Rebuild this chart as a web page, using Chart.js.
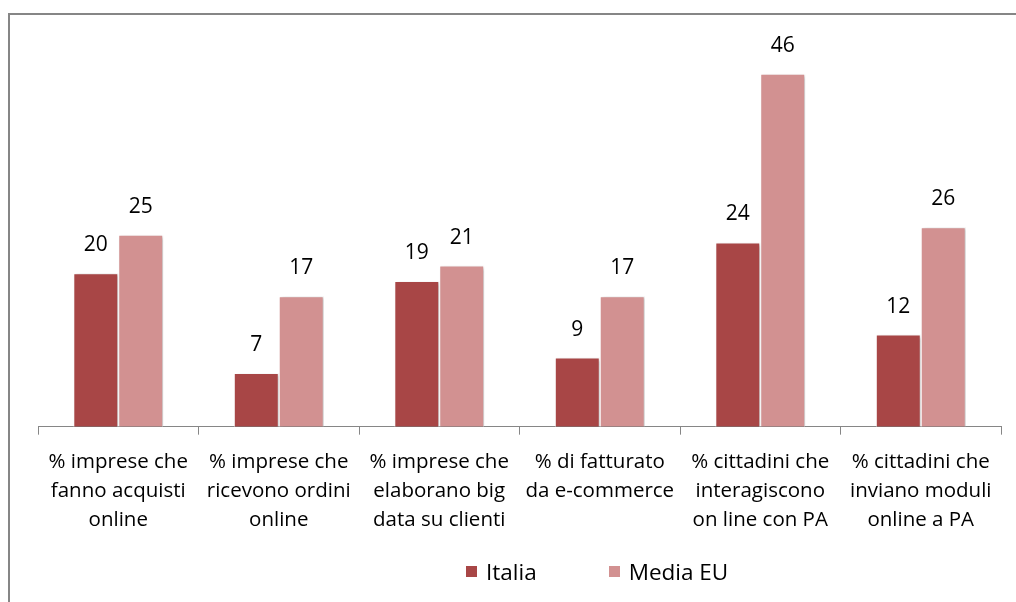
<!DOCTYPE html>
<html>
<head>
<meta charset="utf-8">
<script src="https://cdn.jsdelivr.net/npm/chart.js@4"></script>
<style>
    body { margin: 0; background: #fff; overflow: hidden; }
    #wrap { position: relative; width: 1016px; height: 602px; }
    #frame { position: absolute; left: 8px; top: 13px; width: 1100px; height: 700px; border: 2px solid #868686; border-right: none; border-bottom: none; box-sizing: border-box; }
    #chart { position: absolute; left: 0; top: 0; }
    #legend { position: absolute; left: 466px; top: 556px; display: flex; align-items: center; font-family: "Open Sans", sans-serif; font-size: 22.5px; color: #000; }
    #legend span.box { display: inline-block; width: 11px; height: 11px; margin-right: 9px; }
    #legend .item { display: flex; align-items: center; margin-right: 72px; }
</style>
</head>
<body>
<div id="wrap">
    <div id="frame"></div>
    <canvas id="chart" width="1016" height="602"></canvas>
    <div id="legend"></div>
</div>
<script>
const categories = [
    ["% imprese che", "fanno acquisti", "online"],
    ["% imprese che", "ricevono ordini", "online"],
    ["% imprese che", "elaborano big", "data su clienti"],
    ["% di fatturato", "da e-commerce"],
    ["% cittadini che", "interagiscono", "on line con PA"],
    ["% cittadini che", "inviano moduli", "online a PA"]
];
const italia = [20, 7, 19, 9, 24, 12];
const mediaEU = [25, 17, 21, 17, 46, 26];
const seriesNames = ["Italia", "Media EU"];
const seriesColors = ["#A84646", "#D29191"];

const fontFamily = '"Open Sans", sans-serif';

// value labels above each bar
const valueLabels = {
    id: 'valueLabels',
    afterDatasetsDraw(chart) {
        const ctx = chart.ctx;
        ctx.save();
        ctx.font = '21px ' + fontFamily;
        ctx.fillStyle = '#000';
        ctx.textAlign = 'center';
        ctx.textBaseline = 'middle';
        chart.data.datasets.forEach((ds, i) => {
            chart.getDatasetMeta(i).data.forEach((bar, j) => {
                ctx.fillText(ds.data[j], bar.x, bar.y - 28);
            });
        });
        ctx.restore();
    }
};

// soft shadow like the office chart
const barShadow = {
    id: 'barShadow',
    beforeDatasetsDraw(chart) {
        const ctx = chart.ctx;
        ctx.save();
        ctx.shadowColor = 'rgba(0,0,0,0.25)';
        ctx.shadowBlur = 3;
        ctx.shadowOffsetX = 2;
        ctx.shadowOffsetY = 1;
    },
    afterDatasetsDraw(chart) {
        chart.ctx.restore();
    }
};

new Chart(document.getElementById('chart'), {
    type: 'bar',
    data: {
        labels: categories,
        datasets: [
            { label: seriesNames[0], data: italia, backgroundColor: seriesColors[0], borderColor: '#fff', borderWidth: 1 },
            { label: seriesNames[1], data: mediaEU, backgroundColor: seriesColors[1], borderColor: '#fff', borderWidth: 1 }
        ]
    },
    options: {
        responsive: false,
        animation: false,
        layout: { padding: { left: 38, right: 15, top: 43, bottom: 54 } },
        datasets: { bar: { categoryPercentage: 0.56, barPercentage: 1 } },
        plugins: {
            legend: { display: false },
            tooltip: { enabled: false }
        },
        scales: {
            x: {
                offset: true,
                grid: { display: true, drawOnChartArea: false, drawTicks: true, tickLength: 8, color: '#868686', offset: true },
                border: { display: true, color: '#868686', width: 1 },
                ticks: {
                    color: '#000',
                    padding: 13,
                    maxRotation: 0,
                    autoSkip: false,
                    font: { family: fontFamily, size: 20.5, lineHeight: 1.42 }
                }
            },
            y: {
                display: false,
                min: 0,
                max: 50
            }
        }
    },
    plugins: [barShadow, valueLabels]
});

const legend = document.getElementById('legend');
seriesNames.forEach((name, i) => {
    const item = document.createElement('div');
    item.className = 'item';
    const box = document.createElement('span');
    box.className = 'box';
    box.style.background = seriesColors[i];
    item.appendChild(box);
    item.appendChild(document.createTextNode(name));
    legend.appendChild(item);
});
</script>
</body>
</html>
